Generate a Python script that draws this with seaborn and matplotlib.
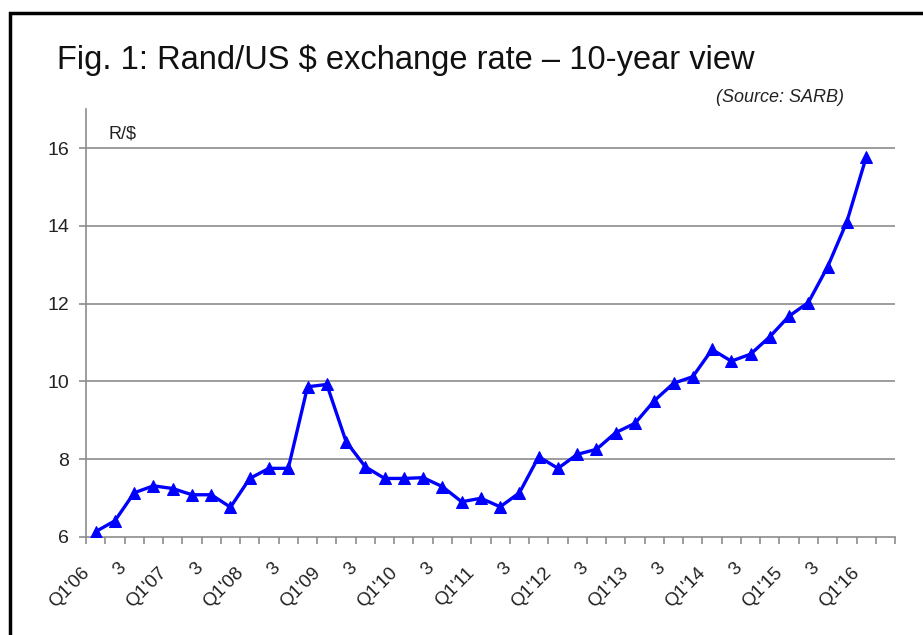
import matplotlib
matplotlib.use("Agg")
import matplotlib.pyplot as plt
from matplotlib.patches import Rectangle
from matplotlib.transforms import ScaledTranslation
import seaborn as sns
import pandas as pd

# Quarterly Rand/US$ exchange rate, Q1'06 .. Q1'16
quarters = [f"Q{q}'{y:02d}" for y in range(6, 17) for q in range(1, 5)][:41]
rand_per_usd = [
    6.13, 6.41, 7.13, 7.31, 7.24, 7.08, 7.08, 6.76,
    7.50, 7.76, 7.76, 9.86, 9.92, 8.45, 7.80, 7.50,
    7.50, 7.52, 7.29, 6.90, 6.99, 6.77, 7.13, 8.06,
    7.76, 8.12, 8.25, 8.68, 8.92, 9.50, 9.95, 10.12,
    10.82, 10.52, 10.70, 11.15, 11.68, 12.03, 12.95, 14.11,
    15.77,
]
# Label every second quarter: the year's first quarter, then "3"
label_years = [6, 6, 7, 7, 8, 8, 9, 9, 10, 10, 11, 11, 12, 12,
               13, 13, 14, 14, 15, 15, 16]
tick_labels = [f"Q1'{y:02d}" if i % 2 == 0 else "3"
               for i, y in enumerate(label_years)]
y_ticks = [6, 8, 10, 12, 14, 16]

df = pd.DataFrame({"pos": range(len(rand_per_usd)), "quarter": quarters,
                   "rate": rand_per_usd})

sns.set_style("white")
plt.rcParams["font.family"] = ["Liberation Sans", "DejaVu Sans"]

fig = plt.figure(figsize=(9.23, 6.35), dpi=100)
ax = fig.add_axes([0.0932, 0.1548, 0.8765, 0.6728])

grid_col = "#8c8c8c"
for yv in y_ticks[1:]:
    ax.axhline(yv, color=grid_col, lw=1.2, zorder=1)

sns.lineplot(data=df, x="pos", y="rate", ax=ax, color="#0000ff", lw=2.4,
             marker="^", markersize=8, markeredgecolor="#0000ff", zorder=3)

n_cat = 42
ax.set_xlim(-0.5, n_cat - 0.5)
ax.set_ylim(6, 17)

ax.set_yticks(y_ticks)
ax.set_yticklabels([str(v) for v in y_ticks], fontsize=14, color="#222222")
ax.set_xticks(range(0, 41, 2))
ax.set_xticklabels(tick_labels, rotation=45, ha="right", va="top",
                   rotation_mode="anchor", fontsize=13.5, color="#222222")
ax.tick_params(axis="x", length=0, pad=20)
ax.tick_params(axis="y", length=5, color=grid_col, width=1.2, pad=7, left=True)
# Tick marks sit between categories
ax.set_xticks([i - 0.5 for i in range(n_cat + 1)], minor=True)
ax.tick_params(axis="x", which="minor", length=5, color=grid_col, width=1.2,
               bottom=True)

# Nudge the slanted category labels left; the short "3" labels sit a bit higher
for lab in ax.get_xticklabels():
    if lab.get_text() == "3":
        off = ScaledTranslation(-0.17, 0.05, fig.dpi_scale_trans)
    else:
        off = ScaledTranslation(-0.15, 0.0, fig.dpi_scale_trans)
    lab.set_transform(lab.get_transform() + off)

for side in ["top", "right"]:
    ax.spines[side].set_visible(False)
for side in ["left", "bottom"]:
    ax.spines[side].set_color(grid_col)
    ax.spines[side].set_linewidth(1.2)

ax.set_xlabel("")
ax.set_ylabel("")
fig.text(108 / 923, 1 - 139 / 635, "R/$", fontsize=13, color="#222222",
         ha="left", va="baseline")

fig.text(57 / 923, 1 - 68.5 / 635,
         "Fig. 1: Rand/US $ exchange rate \u2013 10-year view",
         fontsize=23.5, color="#111111", ha="left", va="baseline")
fig.text(844 / 923, 1 - 102 / 635, "(Source: SARB)", fontsize=13,
         style="italic", color="#222222", ha="right", va="baseline")

# Black frame around the figure panel
fig.patches.append(Rectangle((0.0105, -0.2), 1.2, 1.179, transform=fig.transFigure,
                             fill=False, edgecolor="black", lw=2.5))

fig.savefig("out.png", dpi=100)
